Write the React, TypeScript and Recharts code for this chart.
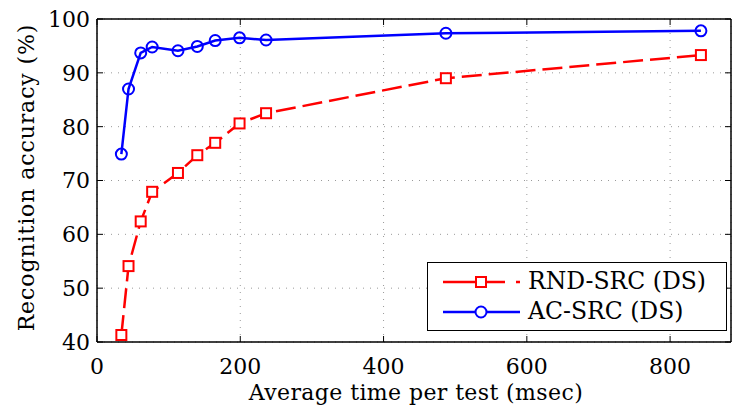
import { LineChart, Line, XAxis, YAxis, CartesianGrid, ReferenceLine, Legend } from "recharts";

const timeMs = [34, 44, 61, 77, 113, 140, 165, 199, 236, 487, 843];
const rndSrc = [41.3, 54.1, 62.4, 67.9, 71.4, 74.7, 77.0, 80.6, 82.5, 89.0, 93.3];
const acSrc = [74.9, 87.0, 93.7, 94.8, 94.1, 94.9, 96.0, 96.5, 96.1, 97.35, 97.8];
const xTicks = [0, 200, 400, 600, 800];
const yTicks = [40, 50, 60, 70, 80, 90, 100];

const data = timeMs.map((t, i) => ({ t, rnd: rndSrc[i], ac: acSrc[i] }));

const FONT = "'DejaVu Serif', serif";
const PLOT_TOP = 19;
const PLOT_RIGHT = 731;
const X_MAX = 885;

const SquareDot = (props: any) => {
  const { cx, cy, index } = props;
  return (
    <rect key={`sq-${index}`} x={cx - 5} y={cy - 5} width={10} height={10}
      fill="#fff" stroke="#ff0000" strokeWidth={2} />
  );
};

const CircleDot = (props: any) => {
  const { cx, cy, index } = props;
  return <circle key={`c-${index}`} cx={cx} cy={cy} r={5.5} fill="none" stroke="#0000ff" strokeWidth={2} />;
};

const txt = { fontFamily: FONT, fontSize: 22, fill: "#000" };

// bottom axis tick: label plus inward tick marks at bottom and top
const XTick = (props: any) => {
  const { x, y, payload } = props;
  const axisY = y - 6;
  return (
    <g>
      <line x1={x} x2={x} y1={axisY} y2={axisY - 6} stroke="#000" strokeWidth={1} />
      <line x1={x} x2={x} y1={PLOT_TOP} y2={PLOT_TOP + 6} stroke="#000" strokeWidth={1} />
      <text x={x} y={axisY + 32} textAnchor="middle" style={txt}>
        {payload.value}
      </text>
    </g>
  );
};

const YTick = (props: any) => {
  const { x, y, payload } = props;
  const axisX = x + 7;
  return (
    <g>
      <line x1={axisX} x2={axisX + 6} y1={y} y2={y} stroke="#000" strokeWidth={1} />
      <line x1={PLOT_RIGHT - 6} x2={PLOT_RIGHT} y1={y} y2={y} stroke="#000" strokeWidth={1} />
      <text x={x} y={y} dy="0.36em" textAnchor="end" style={txt}>
        {payload.value}
      </text>
    </g>
  );
};

const LegendBox = () => (
  <div style={{ width: 298, height: 67, border: "1.5px solid #000", background: "#fff", fontFamily: FONT, fontSize: 23.5, color: "#000", lineHeight: 1 }}>
    <div style={{ display: "flex", alignItems: "center", height: 31, marginTop: 3 }}>
      <svg width={100} height={20}>
        <line x1={15} x2={92} y1={10} y2={10} stroke="#ff0000" strokeWidth={2.5} strokeDasharray="62 11 4 20" />
        <rect x={48} y={5} width={10} height={10} fill="#fff" stroke="#ff0000" strokeWidth={2} />
      </svg>
      <span>RND-SRC (DS)</span>
    </div>
    <div style={{ display: "flex", alignItems: "center", height: 30 }}>
      <svg width={100} height={20}>
        <line x1={15} x2={92} y1={10} y2={10} stroke="#0000ff" strokeWidth={2.5} />
        <circle cx={53} cy={10} r={5.5} fill="#fff" stroke="#0000ff" strokeWidth={2} />
      </svg>
      <span>AC-SRC (DS)</span>
    </div>
  </div>
);

export default function App() {
  return (
    <div style={{ position: "absolute", left: 0, top: 0, background: "#fff" }}>
      <LineChart width={732} height={415} data={data} margin={{ top: PLOT_TOP, right: 1, left: 0, bottom: 0 }}>
        <CartesianGrid stroke="#9a9a9a" strokeDasharray="1 6" />
        <XAxis
          dataKey="t"
          type="number"
          domain={[0, X_MAX]}
          ticks={xTicks}
          height={73}
          tickSize={0}
          tickMargin={6}
          tick={<XTick />}
          axisLine={{ stroke: "#000", strokeWidth: 1.5 }}
          label={(p: any) => (
            <text
              x={p.viewBox.x + p.viewBox.width / 2 + 2}
              y={p.viewBox.y + 58}
              textAnchor="middle"
              style={{ ...txt, letterSpacing: 0.4 }}
            >
              Average time per test (msec)
            </text>
          )}
        />
        <YAxis
          type="number"
          domain={[40, 100]}
          ticks={yTicks}
          width={97}
          tickSize={0}
          tickMargin={7}
          tick={<YTick />}
          axisLine={{ stroke: "#000", strokeWidth: 1.5 }}
          label={(p: any) => (
            <text
              x={26}
              y={p.viewBox.y + p.viewBox.height / 2 - 3}
              transform={`rotate(-90 26 ${p.viewBox.y + p.viewBox.height / 2 - 3})`}
              textAnchor="middle"
              dominantBaseline="central"
              style={{ ...txt, letterSpacing: 0.9 }}
            >
              Recognition accuracy (%)
            </text>
          )}
        />
        <ReferenceLine y={100} stroke="#000" strokeWidth={1.5} />
        <ReferenceLine x={X_MAX} stroke="#000" strokeWidth={1.5} />
        <Line
          dataKey="rnd"
          name="RND-SRC (DS)"
          stroke="#ff0000"
          strokeWidth={2.5}
          strokeDasharray="20 7"
          dot={SquareDot}
          isAnimationActive={false}
        />
        <Line
          dataKey="ac"
          name="AC-SRC (DS)"
          stroke="#0000ff"
          strokeWidth={2.5}
          dot={CircleDot}
          isAnimationActive={false}
        />
        <Legend
          layout="horizontal"
          verticalAlign="middle"
          align="center"
          content={<LegendBox />}
          wrapperStyle={{ position: "absolute", left: 427, top: 262, width: 300 }}
        />
      </LineChart>
    </div>
  );
}
